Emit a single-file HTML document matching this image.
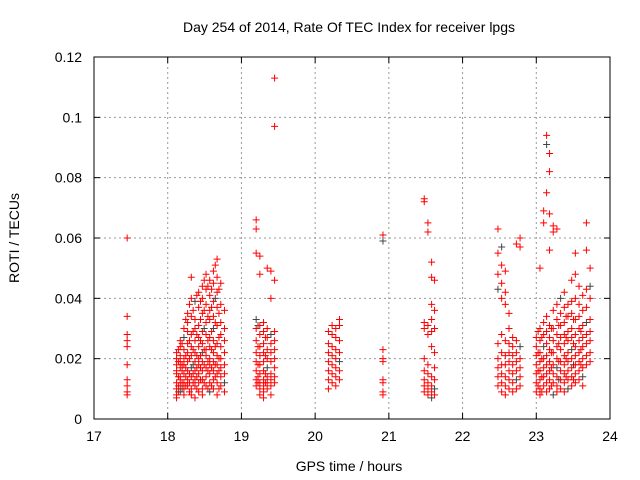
<!DOCTYPE html>
<html><head><meta charset="utf-8">
<style>
body{margin:0;background:#fff;}
svg{display:block;font-family:"Liberation Sans",sans-serif;}
</style></head>
<body>
<svg id="chart" width="640" height="480" viewBox="0 0 640 480">
<rect width="640" height="480" fill="#fff"/>
<text x="349" y="32" font-size="14" text-anchor="middle">Day 254 of 2014, Rate Of TEC Index for receiver lpgs</text>
<g id="grid"></g>
<g id="axes"></g>
<g id="marks"></g>
<text x="349" y="471" font-size="14" text-anchor="middle">GPS time / hours</text>
<text x="19" y="238" font-size="14" text-anchor="middle" transform="rotate(-90 19 238)">ROTI / TECUs</text>
</svg>
<script>
const xTicks=[17,18,19,20,21,22,23,24];
const yTicks=[0,0.02,0.04,0.06,0.08,0.1,0.12];
const yTickLabels=["0","0.02","0.04","0.06","0.08","0.1","0.12"];
// columns: [hour, roti values...]
const columns=[
[17.45,0.060,0.034,0.028,0.026,0.024,0.018,0.013,0.011,0.009,0.008],
[18.12,0.022,0.018,0.015,0.012,0.010,0.008,0.007,0.020,0.016],
[18.145,0.019,0.014,0.011,0.009,0.023],
[18.17,0.024,0.021,0.019,0.017,0.014,0.013,0.011,0.009,0.026],
[18.195,0.025,0.016,0.012,0.018,0.010],
[18.22,0.030,0.027,0.023,0.020,0.018,0.015,0.012,0.010,0.008],
[18.245,0.033,0.021,0.017,0.014,0.011],
[18.27,0.035,0.032,0.025,0.022,0.019,0.016,0.013,0.011,0.029],
[18.295,0.038,0.026,0.020,0.015,0.012,0.009],
[18.32,0.047,0.040,0.034,0.028,0.024,0.021,0.017,0.014,0.010,0.008],
[18.345,0.036,0.029,0.023,0.018,0.015,0.012],
[18.37,0.039,0.033,0.030,0.026,0.022,0.019,0.016,0.013,0.011,0.007],
[18.395,0.041,0.028,0.021,0.017,0.014,0.010],
[18.42,0.042,0.037,0.031,0.027,0.024,0.020,0.018,0.015,0.012,0.009],
[18.445,0.039,0.033,0.026,0.021,0.017,0.013],
[18.47,0.044,0.040,0.035,0.029,0.025,0.022,0.019,0.016,0.013,0.010,0.008],
[18.495,0.046,0.036,0.030,0.023,0.018,0.012],
[18.52,0.048,0.043,0.038,0.032,0.028,0.023,0.021,0.017,0.014,0.011],
[18.545,0.044,0.034,0.026,0.019,0.016,0.010],
[18.57,0.046,0.041,0.036,0.033,0.027,0.024,0.020,0.018,0.015,0.012,0.009],
[18.595,0.043,0.037,0.029,0.023,0.017,0.011],
[18.62,0.049,0.045,0.039,0.034,0.030,0.026,0.022,0.019,0.016,0.013,0.010],
[18.645,0.051,0.040,0.032,0.024,0.018,0.014],
[18.67,0.053,0.047,0.042,0.037,0.031,0.025,0.021,0.018,0.015,0.012,0.008],
[18.695,0.043,0.035,0.027,0.020,0.016,0.010],
[18.72,0.045,0.038,0.032,0.028,0.024,0.020,0.017,0.014,0.011],
[18.77,0.036,0.030,0.026,0.022,0.018,0.015,0.012,0.009],
[19.20,0.066,0.063,0.055,0.033,0.030,0.026,0.022,0.019,0.016,0.013,0.011],
[19.225,0.031,0.024,0.018,0.014,0.012],
[19.25,0.054,0.048,0.031,0.028,0.024,0.021,0.018,0.015,0.012,0.010,0.008],
[19.30,0.032,0.029,0.025,0.022,0.019,0.016,0.013,0.011,0.009,0.007],
[19.325,0.027,0.021,0.015,0.012],
[19.35,0.050,0.030,0.027,0.023,0.020,0.017,0.014,0.012,0.010],
[19.40,0.049,0.040,0.028,0.025,0.022,0.019,0.015,0.013,0.011,0.008],
[19.45,0.113,0.097,0.046,0.029,0.026,0.023,0.020,0.017,0.014,0.012],
[20.18,0.029,0.025,0.022,0.019,0.016,0.013,0.010],
[20.23,0.031,0.028,0.024,0.021,0.018,0.015,0.012],
[20.28,0.030,0.027,0.023,0.020,0.017,0.014,0.011],
[20.33,0.033,0.031,0.026,0.022,0.019,0.016,0.013],
[20.92,0.061,0.059,0.023,0.020,0.019,0.013,0.012,0.009,0.008],
[21.48,0.073,0.072,0.032,0.030,0.020,0.016,0.013,0.011,0.009],
[21.53,0.065,0.062,0.031,0.028,0.018,0.015,0.012,0.010,0.008],
[21.58,0.052,0.047,0.038,0.033,0.029,0.024,0.014,0.011,0.009,0.007],
[21.62,0.046,0.036,0.030,0.022,0.017,0.013,0.010,0.008],
[22.48,0.063,0.055,0.048,0.043,0.025,0.020,0.017,0.014,0.011],
[22.53,0.057,0.051,0.045,0.040,0.028,0.022,0.018,0.015,0.012,0.009],
[22.58,0.049,0.042,0.038,0.026,0.021,0.018,0.014,0.011,0.008],
[22.63,0.035,0.030,0.025,0.022,0.019,0.016,0.013,0.010],
[22.68,0.027,0.024,0.021,0.018,0.015,0.012,0.009],
[22.73,0.058,0.026,0.022,0.019,0.016,0.013,0.010],
[22.78,0.060,0.057,0.024,0.020,0.017,0.014,0.011],
[23.00,0.027,0.024,0.021,0.018,0.015,0.012,0.009],
[23.025,0.029,0.022,0.016,0.011],
[23.05,0.050,0.030,0.026,0.022,0.019,0.016,0.013,0.010,0.008],
[23.075,0.027,0.020,0.014,0.009],
[23.10,0.069,0.065,0.032,0.028,0.024,0.020,0.017,0.014,0.011],
[23.14,0.094,0.091,0.075,0.034,0.029,0.025,0.021,0.018,0.015,0.012,0.009],
[23.18,0.088,0.082,0.068,0.056,0.031,0.027,0.023,0.019,0.016,0.013,0.010],
[23.205,0.030,0.022,0.017,0.011],
[23.23,0.064,0.062,0.036,0.030,0.026,0.022,0.018,0.015,0.012,0.008],
[23.28,0.063,0.038,0.033,0.028,0.024,0.020,0.017,0.014,0.011,0.009],
[23.305,0.031,0.025,0.019,0.013],
[23.33,0.040,0.035,0.031,0.027,0.023,0.019,0.016,0.013,0.010],
[23.38,0.042,0.037,0.032,0.028,0.025,0.021,0.018,0.015,0.012,0.009],
[23.405,0.034,0.027,0.020,0.014],
[23.43,0.038,0.034,0.029,0.026,0.022,0.019,0.016,0.013,0.010],
[23.48,0.046,0.039,0.035,0.030,0.027,0.023,0.020,0.017,0.014,0.011],
[23.505,0.033,0.025,0.018,0.013],
[23.53,0.055,0.048,0.040,0.033,0.028,0.024,0.021,0.018,0.015,0.012],
[23.58,0.044,0.038,0.034,0.030,0.026,0.022,0.019,0.016,0.013],
[23.605,0.029,0.023,0.018],
[23.63,0.041,0.036,0.031,0.027,0.024,0.020,0.017,0.014,0.011],
[23.68,0.065,0.056,0.043,0.037,0.032,0.028,0.025,0.021,0.018],
[23.73,0.050,0.044,0.040,0.033,0.029,0.026,0.022,0.019]
];
const L=94,R=610,T=57,B=419;
const xs=v=>L+(v-17)/7*(R-L);
const ys=v=>B-v/0.12*(B-T);
const NS="http://www.w3.org/2000/svg";
function mk(tag,attrs,parent){const e=document.createElementNS(NS,tag);for(const k in attrs)e.setAttribute(k,attrs[k]);parent.appendChild(e);return e;}
const grid=document.getElementById('grid'),axes=document.getElementById('axes'),marks=document.getElementById('marks');
xTicks.forEach(t=>{
  const x=xs(t);
  if(t>17&&t<24){const g=mk('line',{x1:x,x2:x,y1:T,y2:B,stroke:'#999','stroke-dasharray':'2,3','stroke-width':1},grid);
  
  }
  mk('line',{x1:x,x2:x,y1:B,y2:B-6,stroke:'#000'},axes);
  mk('line',{x1:x,x2:x,y1:T,y2:T+6,stroke:'#000'},axes);
  const tx=mk('text',{x:x,y:B+22,'font-size':14,'text-anchor':'middle'},axes);tx.textContent=t;
  
  
});
yTicks.forEach((t,i)=>{
  const y=ys(t);
  if(i>0&&i<yTicks.length-1){const g=mk('line',{x1:L,x2:R,y1:y,y2:y,stroke:'#999','stroke-dasharray':'2,3','stroke-width':1},grid);
  
  }
  mk('line',{x1:L,x2:L+6,y1:y,y2:y,stroke:'#000'},axes);
  mk('line',{x1:R,x2:R-6,y1:y,y2:y,stroke:'#000'},axes);
  const tx=mk('text',{x:L-12,y:y+5,'font-size':14,'text-anchor':'end'},axes);tx.textContent=yTickLabels[i];
  
  
});
mk('rect',{x:L,y:T,width:R-L,height:B-T,fill:'none',stroke:'#000'},axes);
columns.forEach((c,ci)=>{
  for(let j=1;j<c.length;j++){
    const x=xs(c[0]),y=ys(c[j]);
    const col=((ci*3+j)%17===0)?'#444':'#f00';
    const p=mk('path',{d:`M${x-3.5} ${y}h7M${x} ${y-3.5}v7`,stroke:col,'stroke-width':1,fill:'none'},marks);
    
    
  }
});
</script>
</body></html>
